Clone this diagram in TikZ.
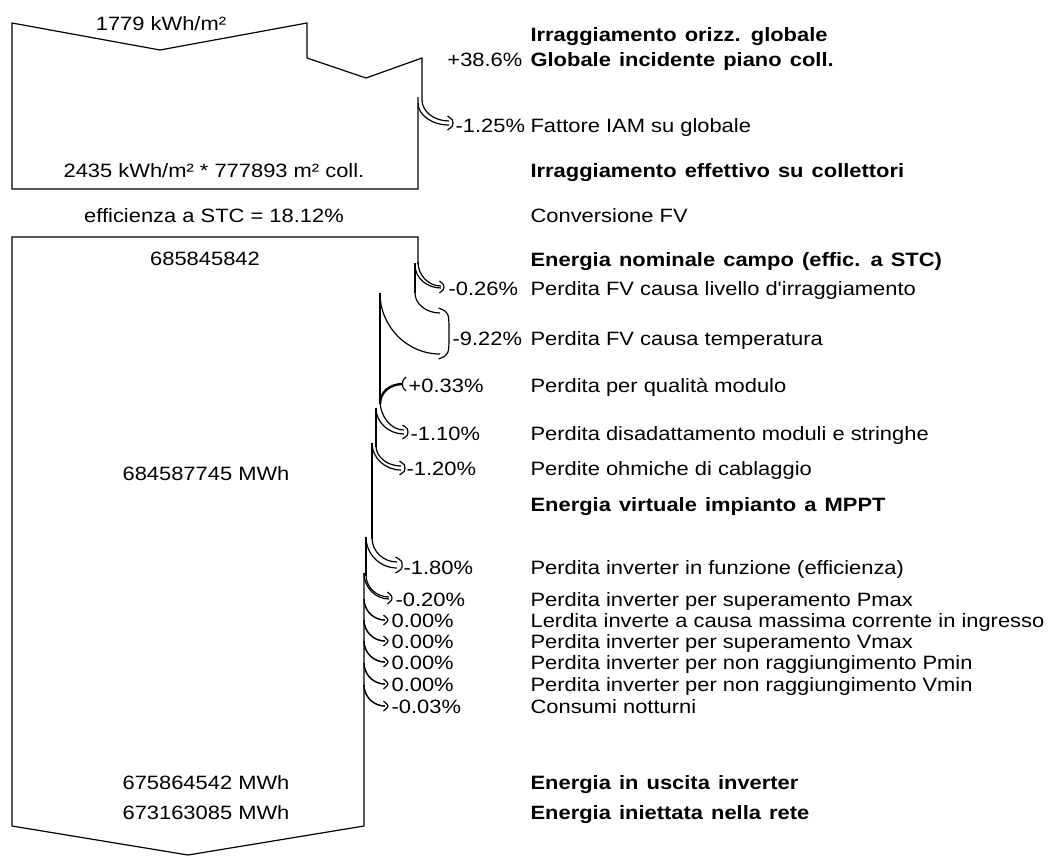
\documentclass[tikz,border=0pt]{standalone}
\usepackage{fontspec}
\setmainfont[FakeStretch=1.135]{Liberation Sans}
\newfontfamily\plainq[FakeStretch=1.135]{Liberation Sans}
\newcommand{\lossarr}[8]{%
  \draw (#1,#2) .. controls (#1,{#2+0.55*(#6-#2)}) and ({#5-0.55*(#5-#1)},#6) .. (#5,#6);
  \draw (#3,#4) .. controls (#3,{#4+0.55*(#6+#7-#4)}) and ({#5-0.55*(#5-#3)},{#6+#7}) .. (#5,{#6+#7});
  \draw ({#5-1.5},{#6-5}) .. controls ({#5+#8},{#6-1}) .. ({#5+#8},{#6+#7/2}) .. controls ({#5+#8},{#6+#7+1}) .. ({#5-1.5},{#6+#7+5});
}
\newcommand{\widesp}{\bfseries\spaceskip 0.42em\relax}
\begin{document}
\begin{tikzpicture}[x=1pt,y=-1pt,line width=1.2pt,line join=miter,
  txt/.style={inner sep=0pt,text height=13.6pt,text depth=0pt,font=\fontsize{19.3}{22}\selectfont},
  lbl/.style={txt,anchor=west},
  rlbl/.style={txt,anchor=east},
  blbl/.style={lbl,font=\fontsize{19.3}{22}\selectfont\widesp}]
\useasboundingbox (0,0) rectangle (1050,855);

% ---- top box (irradiation)
\draw (418,97) -- (418,189) -- (12,189) -- (12,23) -- (160,50) -- (307,23) -- (307,58) -- (366,78) -- (422,58) -- (422,100);
\lossarr{422}{100}{418}{103}{449}{121}{4}{4}

% ---- main box (energy)
\draw (418,264) -- (418,237) -- (12,237) -- (12,826) -- (188,855) -- (364,826) -- (364,573);
\draw (415,263) -- (415,293);
\draw (380,293) -- (380,401);
\draw (376,408) -- (376,447);
\draw (372,443) -- (372,539);
\draw (366,537) -- (366,576);

\lossarr{418}{262}{415}{265}{441}{286}{2}{3}
\lossarr{415}{293}{380}{293}{440}{313}{41}{9}
% gain
\draw[line width=2.4pt] (380,404) .. controls (380,392) and (390,384) .. (403,384);
\draw (406,377) .. controls (401,380) and (401,388) .. (406,391);
\lossarr{380}{400}{376}{408}{404}{430}{4}{4}
\lossarr{376}{446}{372}{443}{401}{466}{4}{4}
\lossarr{372}{538}{366}{537}{397}{562}{6}{5}
\lossarr{366}{575}{364}{573}{389}{597}{2}{3}
\lossarr{364}{599}{364}{599}{385}{620}{0}{3}
\lossarr{364}{620}{364}{620}{385}{641}{0}{3}
\lossarr{364}{641}{364}{641}{385}{662}{0}{3}
\lossarr{364}{663}{364}{663}{385}{684}{0}{3}
\lossarr{364}{685}{364}{685}{385}{706}{0}{3}

% ---- left texts
\node[txt] (t1) at (161,24) {1779 kWh/m²};
\node[txt] (t2) at (214,171) {2435 kWh/m² * 777893 m² coll.};
\node[txt] (t3) at (214,216) {efficienza a STC = 18.12\%};
\node[txt] (t4) at (205,259) {685845842};
\node[txt] (t5) at (206,474) {684587745 MWh};
\node[txt] (t6) at (206,783) {675864542 MWh};
\node[txt] (t7) at (206,813) {673163085 MWh};

% ---- percentages
\node[rlbl] (p1) at (523,60) {+38.6\%};
\node[lbl] (p2) at (455,126) {-1.25\%};
\node[lbl] (p3) at (448,289) {-0.26\%};
\node[lbl] (p4) at (452,339) {-9.22\%};
\node[lbl] (p5) at (408,386) {+0.33\%};
\node[lbl] (p6) at (410,434) {-1.10\%};
\node[lbl] (p7) at (406,469) {-1.20\%};
\node[lbl] (p8) at (403,568) {-1.80\%};
\node[lbl] (p9) at (395,600) {-0.20\%};
\node[lbl] (p10) at (391,621) {0.00\%};
\node[lbl] (p11) at (391,642) {0.00\%};
\node[lbl] (p12) at (391,663) {0.00\%};
\node[lbl] (p13) at (391,685) {0.00\%};
\node[lbl] (p14) at (391,707) {-0.03\%};

% ---- descriptions
\node[blbl] (d1) at (530,35) {Irraggiamento orizz. globale};
\node[blbl] (d2) at (530,60) {Globale incidente piano coll.};
\node[lbl] (d3) at (530,126) {Fattore IAM su globale};
\node[blbl] (d4) at (530,171) {Irraggiamento effettivo su collettori};
\node[lbl] (d5) at (530,216) {Conversione FV};
\node[blbl] (d6) at (530,260) {Energia nominale campo (effic. a STC)};
\node[lbl] (d7) at (530,289) {Perdita FV causa livello d{\plainq '}irraggiamento};
\node[lbl] (d8) at (530,339) {Perdita FV causa temperatura};
\node[lbl] (d9) at (530,386) {Perdita per qualità modulo};
\node[lbl] (d10) at (530,434) {Perdita disadattamento moduli e stringhe};
\node[lbl] (d11) at (530,469) {Perdite ohmiche di cablaggio};
\node[blbl] (d12) at (530,505) {Energia virtuale impianto a MPPT};
\node[lbl] (d13) at (530,568) {Perdita inverter in funzione (efficienza)};
\node[lbl] (d14) at (530,600) {Perdita inverter per superamento Pmax};
\node[lbl] (d15) at (530,621) {Lerdita inverte a causa massima corrente in ingresso};
\node[lbl] (d16) at (530,642) {Perdita inverter per superamento Vmax};
\node[lbl] (d17) at (530,663) {Perdita inverter per non raggiungimento Pmin};
\node[lbl] (d18) at (530,685) {Perdita inverter per non raggiungimento Vmin};
\node[lbl] (d19) at (530,707) {Consumi notturni};
\node[blbl] (d20) at (530,783) {Energia in uscita inverter};
\node[blbl] (d21) at (530,813) {Energia iniettata nella rete};
\end{tikzpicture}
\end{document}
